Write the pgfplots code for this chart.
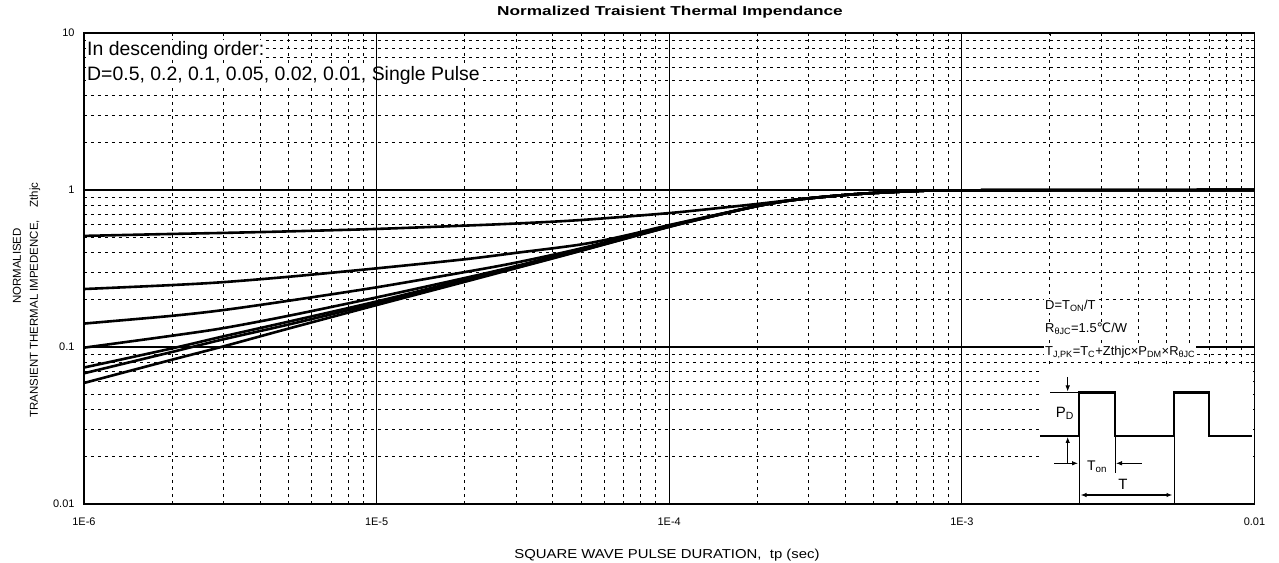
\documentclass[border=0pt]{standalone}
\usepackage{graphicx}
\usepackage{pgfplots}
\pgfplotsset{compat=1.18}
\usepackage{fontspec}
\setmainfont{Liberation Sans}
\newfontfamily\djv{DejaVu Sans}
\usetikzlibrary{arrows.meta}
\begin{document}
\begin{tikzpicture}
\path[use as bounding box] (0bp,0bp) rectangle (1279bp,563bp);
\begin{axis}[
  at={(84bp,59bp)}, anchor=south west,
  scale only axis, width=1170.5bp, height=471bp,
  xmode=log, ymode=log,
  xmin=1e-6, xmax=1e-2, ymin=0.01, ymax=10,
  xtick={1e-6,1e-5,1e-4,1e-3,1e-2},
  xticklabels={1E-6,1E-5,1E-4,1E-3,0.01},
  ytick={0.01,0.1,1,10},
  yticklabels={0.01,0.1,1,10},
  grid=both,
  major grid style={black, line width=1.2bp},
  minor grid style={black, line width=1.0bp, dash pattern=on 2.8bp off 4.2bp},
  axis line style={line width=1.8bp},
  tick style={black, line width=0.8bp},
  major tick length=4bp, minor tick length=3bp,
  ticklabel style={font=\fontsize{11}{13}\selectfont},
  xticklabel style={yshift=-10bp},
  yticklabel style={xshift=-6bp},
]
% D = 0.5
\addplot[black, line width=2.6bp, smooth] coordinates {
(1e-6,0.51) (2e-6,0.525) (3e-6,0.533) (5e-6,0.545) (1e-5,0.565) (2e-5,0.593) (3e-5,0.612) (5e-5,0.644) (1e-4,0.713) (1.5e-4,0.77) (2e-4,0.815) (2.5e-4,0.855) (3e-4,0.887) (4e-4,0.93) (5e-4,0.957) (7e-4,0.985) (1e-3,0.995) (1e-2,1.0)};
% D = 0.2
\addplot[black, line width=2.6bp, smooth] coordinates {
(1e-6,0.234) (2e-6,0.248) (3e-6,0.259) (5e-6,0.28) (1e-5,0.317) (2e-5,0.362) (3e-5,0.398) (5e-5,0.45) (7e-5,0.51) (1e-4,0.598) (1.5e-4,0.705) (2e-4,0.792) (2.5e-4,0.851) (3e-4,0.885) (4e-4,0.93) (5e-4,0.957) (7e-4,0.985) (1e-3,0.995) (1e-2,1.0)};
% D = 0.1
\addplot[black, line width=2.6bp, smooth] coordinates {
(1e-6,0.141) (2e-6,0.158) (3e-6,0.172) (5e-6,0.197) (1e-5,0.24) (2e-5,0.30) (3e-5,0.345) (5e-5,0.425) (1e-4,0.592) (1.5e-4,0.703) (2e-4,0.791) (2.5e-4,0.85) (3e-4,0.885) (4e-4,0.93) (5e-4,0.957) (7e-4,0.985) (1e-3,0.995) (1e-2,1.0)};
% D = 0.05
\addplot[black, line width=2.6bp, smooth] coordinates {
(1e-6,0.099) (2e-6,0.118) (3e-6,0.132) (5e-6,0.158) (1e-5,0.207) (2e-5,0.275) (3e-5,0.328) (5e-5,0.42) (1e-4,0.589) (1.5e-4,0.702) (2e-4,0.79) (2.5e-4,0.85) (3e-4,0.885) (4e-4,0.93) (5e-4,0.957) (7e-4,0.985) (1e-3,0.995) (1e-2,1.0)};
% D = 0.02
\addplot[black, line width=2.6bp, smooth] coordinates {
(1e-6,0.074) (2e-6,0.098) (3e-6,0.117) (5e-6,0.145) (1e-5,0.195) (2e-5,0.268) (3e-5,0.322) (5e-5,0.415) (1e-4,0.586) (1.5e-4,0.70) (2e-4,0.79) (2.5e-4,0.85) (3e-4,0.885) (4e-4,0.93) (5e-4,0.957) (7e-4,0.985) (1e-3,0.995) (1e-2,1.0)};
% D = 0.01
\addplot[black, line width=2.6bp, smooth] coordinates {
(1e-6,0.068) (2e-6,0.093) (3e-6,0.112) (5e-6,0.139) (1e-5,0.19) (2e-5,0.265) (3e-5,0.32) (5e-5,0.412) (1e-4,0.584) (1.5e-4,0.70) (2e-4,0.79) (2.5e-4,0.85) (3e-4,0.885) (4e-4,0.93) (5e-4,0.957) (7e-4,0.985) (1e-3,0.995) (1e-2,1.0)};
% Single pulse
\addplot[black, line width=2.6bp, smooth] coordinates {
(1e-6,0.059) (2e-6,0.083) (3e-6,0.101) (5e-6,0.131) (1e-5,0.185) (2e-5,0.26) (3e-5,0.318) (5e-5,0.41) (1e-4,0.582) (1.5e-4,0.70) (2e-4,0.79) (2.5e-4,0.85) (3e-4,0.885) (4e-4,0.93) (5e-4,0.957) (7e-4,0.985) (1e-3,0.995) (1e-2,1.0)};
\end{axis}
\begin{scope}[x=1bp,y=1bp]
% title and axis labels
\node[font=\bfseries\fontsize{13}{15}\selectfont] at (670,551) {\scalebox{1.33}[1]{Normalized Traisient Thermal Impendance}};
\node[font=\fontsize{13}{15}\selectfont] at (667,8) {\scalebox{1.15}[1]{SQUARE WAVE PULSE DURATION,\ \ tp (sec)}};
\node[rotate=90, font=\fontsize{11.5}{13}\selectfont] at (17,297) {NORMALISED};
\node[rotate=90, font=\fontsize{11.5}{13}\selectfont] at (35,263) {TRANSIENT THERMAL IMPEDENCE,\ \ \ \ Zthjc};
% legend text
\node[anchor=west, fill=white, inner sep=1bp, font=\fontsize{19.5}{22}\selectfont] at (86,513) {In descending order:};
\node[anchor=west, fill=white, inner sep=1bp, font=\fontsize{19.5}{22}\selectfont] at (86,488) {D=0.5, 0.2, 0.1, 0.05, 0.02, 0.01, Single Pulse};
\draw[line width=1.2bp] (376.6,530) -- (376.6,470);
% inset
\fill[white] (1040,60) rectangle (1253,197);
\begin{scope}[font=\fontsize{13}{15}\selectfont]
\node[anchor=west, fill=white, inner sep=1bp] at (1044,257) {D=T\textsubscript{ON}/T};
\node[anchor=west, fill=white, inner sep=1bp] at (1044,234) {R\textsubscript{θJC}=1.5{\djv ℃}/W};
\node[anchor=west, fill=white, inner sep=1bp] at (1044,211) {T\textsubscript{J,PK}=T\textsubscript{C}+Zthjc×P\textsubscript{DM}×R\textsubscript{θJC}};
\end{scope}
\draw[line width=2.8bp] (1040,127) -- (1079,127) -- (1079,170.3) -- (1115,170.3) -- (1115,127) -- (1174,127) -- (1174,170.3) -- (1209,170.3) -- (1209,127) -- (1252,127);
\draw[line width=0.8bp] (1050,170.3) -- (1079,170.3);
\draw[line width=0.8bp] (1079,127) -- (1079,59);
\draw[line width=0.8bp] (1115,127) -- (1115,90);
\draw[line width=0.8bp] (1174,127) -- (1174,59);
\draw[line width=0.8bp, -{Latex[length=6bp,width=4.5bp]}] (1067.7,186) -- (1067.7,171.5);
\draw[line width=0.8bp, -{Latex[length=6bp,width=4.5bp]}] (1067.7,100) -- (1067.7,126);
\draw[line width=0.8bp, -{Latex[length=6bp,width=4.5bp]}] (1054,99.7) -- (1078,99.7);
\draw[line width=0.8bp, -{Latex[length=6bp,width=4.5bp]}] (1141.7,99.7) -- (1116,99.7);
\draw[line width=1.6bp, {Latex[length=6bp,width=4.5bp]}-{Latex[length=6bp,width=4.5bp]}] (1080.5,68) -- (1172.5,68);
\node[font=\fontsize{15}{17}\selectfont] at (1065,150) {P\textsubscript{D}};
\node[font=\fontsize{14}{16}\selectfont] at (1097,96) {T\textsubscript{on}};
\node[font=\fontsize{15}{17}\selectfont] at (1123,79) {T};
\end{scope}
\end{tikzpicture}
\end{document}
